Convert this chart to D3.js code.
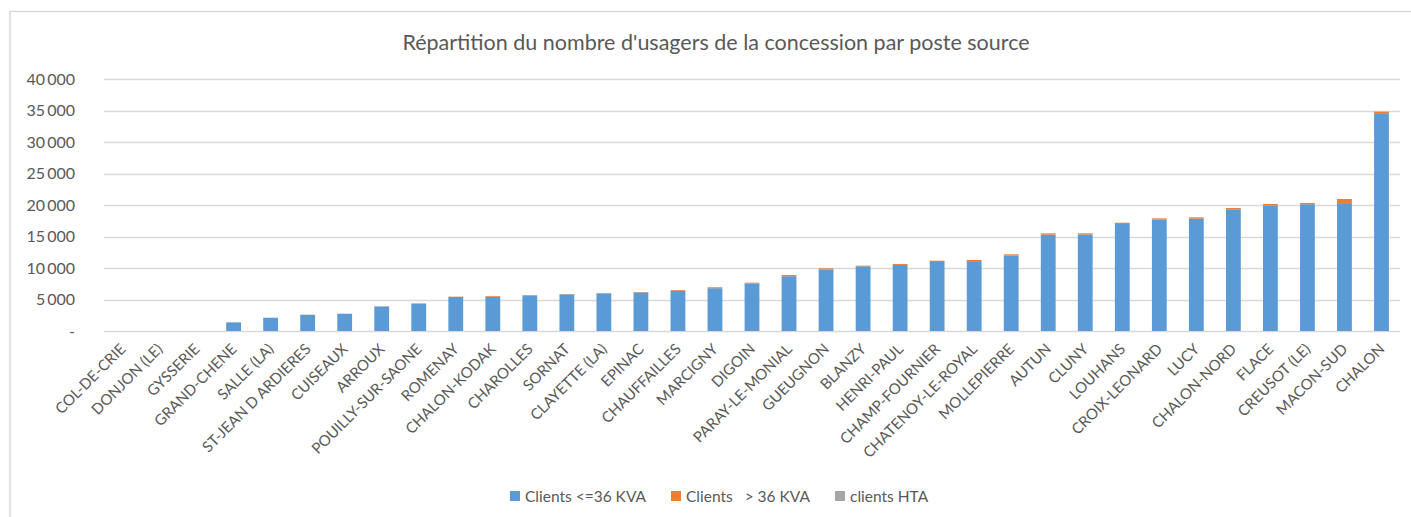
<!DOCTYPE html>
<html>
<head>
<meta charset="utf-8">
<script src="https://cdn.jsdelivr.net/npm/d3@7"></script>
<style>
  body { margin: 0; background: #fff; overflow: hidden; }
  svg text { font-family: Lato, "Open Sans", sans-serif; fill: #595959; }
</style>
</head>
<body>
<div id="chart"></div>
<script>
// Données
const postes = ['COL-DE-CRIE', 'DONJON (LE)', 'GYSSERIE', 'GRAND-CHENE', 'SALLE (LA)', 'ST-JEAN D ARDIERES',
  'CUISEAUX', 'ARROUX', 'POUILLY-SUR-SAONE', 'ROMENAY', 'CHALON-KODAK', 'CHAROLLES', 'SORNAT', 'CLAYETTE (LA)',
  'EPINAC', 'CHAUFFAILLES', 'MARCIGNY', 'DIGOIN', 'PARAY-LE-MONIAL', 'GUEUGNON', 'BLANZY', 'HENRI-PAUL',
  'CHAMP-FOURNIER', 'CHATENOY-LE-ROYAL', 'MOLLEPIERRE', 'AUTUN', 'CLUNY', 'LOUHANS', 'CROIX-LEONARD', 'LUCY',
  'CHALON-NORD', 'FLACE', 'CREUSOT (LE)', 'MACON-SUD', 'CHALON'];

const clientsInf36 = [0, 0, 0, 1370, 2100, 2570, 2730, 3890, 4360, 5400, 5440, 5650, 5820, 5970, 6130, 6380,
  6790, 7520, 8690, 9750, 10270, 10480, 11100, 11090, 11970, 15300, 15320, 17130, 17680, 17840, 19320, 19910,
  20120, 20300, 34460];
const clientsSup36 = [0, 0, 0, 10, 10, 20, 20, 30, 30, 50, 120, 60, 50, 60, 60, 120, 150, 150, 200, 200, 100,
  150, 60, 180, 200, 200, 180, 60, 200, 200, 200, 250, 200, 650, 350];
const clientsHTA = [0, 0, 0, 0, 0, 0, 0, 1, 1, 1, 2, 1, 1, 1, 1, 2, 2, 3, 4, 4, 3, 3, 2, 3, 4, 4, 4, 3, 5, 5,
  6, 6, 7, 8, 12];

const yTicks = [0, 5000, 10000, 15000, 20000, 25000, 30000, 35000, 40000];
const series = ['Clients <=36 KVA', 'Clients   > 36 KVA', 'clients HTA'];
const couleurs = ['#5B9BD5', '#ED7D31', '#A5A5A5'];

const W = 1411, H = 517;
const margin = { top: 79, right: 11, bottom: 186, left: 104 };
const width = W - margin.left - margin.right;
const height = H - margin.top - margin.bottom;

const svg = d3.select('#chart').append('svg')
  .attr('width', W)
  .attr('height', H);

// cadre du graphique (ouvert à droite et en bas)
svg.append('rect')
  .attr('x', 10).attr('y', 11.5)
  .attr('width', W + 20).attr('height', H + 20)
  .attr('fill', 'none').attr('stroke', '#D9D9D9').attr('stroke-width', 1.5);

svg.append('text')
  .attr('x', 716).attr('y', 50)
  .attr('text-anchor', 'middle')
  .style('font-size', '21.5px')
  .text("Répartition du nombre d'usagers de la concession par poste source");

const g = svg.append('g').attr('transform', `translate(${margin.left},${margin.top})`);

const x = d3.scaleBand().domain(postes).range([0, width]).paddingInner(0.6).paddingOuter(0.3);
const y = d3.scaleLinear().domain([0, 40000]).range([height, 0]);

// grille
g.append('g')
  .selectAll('line')
  .data(yTicks)
  .join('line')
  .attr('x1', 0).attr('x2', width)
  .attr('y1', d => Math.round(y(d)) + 0.5).attr('y2', d => Math.round(y(d)) + 0.5)
  .attr('stroke', '#D9D9D9').attr('stroke-width', 1.3);

// axe Y
const fmt = d => d === 0 ? '-' : d3.format(',')(d).replace(',', '\u2009');
g.append('g')
  .attr('transform', 'translate(-26,0)')
  .call(d3.axisLeft(y).tickValues(yTicks).tickFormat(fmt).tickSize(0))
  .call(a => a.select('.domain').remove())
  .selectAll('text')
  .style('font-size', '16px')
  .attr('fill', '#595959');

// barres empilées
const table = postes.map((p, i) => ({ poste: p, s0: clientsInf36[i], s1: clientsSup36[i], s2: clientsHTA[i] }));
const stack = d3.stack().keys(['s0', 's1', 's2'])(table);

g.append('g')
  .selectAll('g')
  .data(stack)
  .join('g')
  .attr('fill', (d, i) => couleurs[i])
  .selectAll('rect')
  .data(d => d)
  .join('rect')
  .attr('x', d => x(d.data.poste))
  .attr('y', d => y(d[1]))
  .attr('width', x.bandwidth())
  .attr('height', d => y(d[0]) - y(d[1]));

// axe X
const xAxis = g.append('g')
  .attr('transform', `translate(0,${height})`)
  .call(d3.axisBottom(x).tickSize(0))
  .call(a => a.select('.domain').remove());

xAxis.selectAll('text')
  .style('font-size', '15px')
  .attr('fill', '#595959')
  .attr('text-anchor', 'end')
  .attr('y', 0)
  .attr('dy', 0)
  .attr('transform', 'translate(4,19) rotate(-45)');

// légende
const legende = svg.append('g').attr('transform', 'translate(0,496)');
const posLeg = [510, 671, 835];
series.forEach((s, i) => {
  legende.append('rect')
    .attr('x', posLeg[i]).attr('y', -5)
    .attr('width', 10).attr('height', 10)
    .attr('fill', couleurs[i]);
  legende.append('text')
    .attr('x', posLeg[i] + 15).attr('y', 5.5)
    .attr('xml:space', 'preserve')
    .style('white-space', 'pre')
    .style('font-size', '15.5px')
    .text(s);
});
</script>
</body>
</html>
